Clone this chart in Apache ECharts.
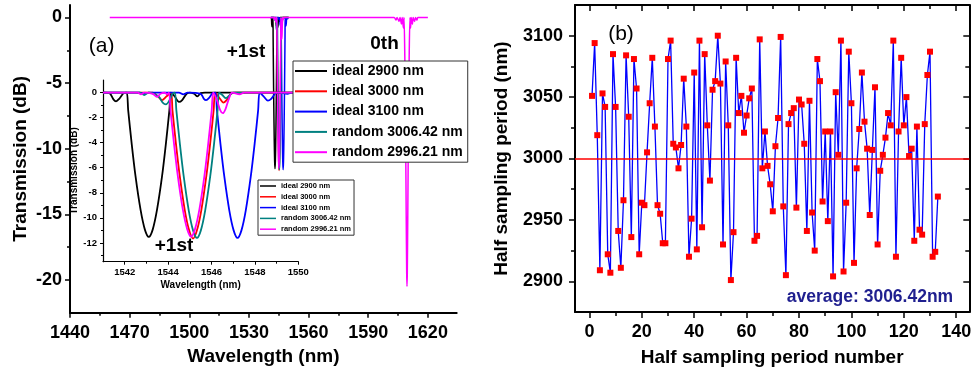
<!DOCTYPE html>
<html>
<head>
<meta charset="utf-8">
<script src="https://cdn.jsdelivr.net/npm/echarts@6/dist/echarts.min.js"></script>
<style>
  html, body { margin: 0; padding: 0; background: #fff; }
  #chart { width: 975px; height: 372px; }
</style>
</head>
<body>
<div id="chart"></div>
<script>
// ---- tick labels ----
const wlTicks = [1440, 1470, 1500, 1530, 1560, 1590, 1620];
const wlMinor = [1455, 1485, 1515, 1545, 1575, 1605];
const dbTicks = [0, -5, -10, -15, -20];
const dbMinor = [-2.5, -7.5, -12.5, -17.5];
const insetWlTicks = [1542, 1544, 1546, 1548, 1550];
const insetWlMinor = [1543, 1545, 1547, 1549];
const insetDbTicks = [0, -2, -4, -6, -8, -10, -12];
const insetDbMinor = [-1, -3, -5, -7, -9, -11, -13];
const numTicks = [0, 20, 40, 60, 80, 100, 120, 140];
const numMinor = [10, 30, 50, 70, 90, 110, 130];
const periodTicks = [2900, 2950, 3000, 3050, 3100];
const periodMinor = [2925, 2975, 3025, 3075];

// ---- series names / colours ----
const names = ['ideal 2900 nm', 'ideal 3000 nm', 'ideal 3100 nm', 'random 3006.42 nm', 'random 2996.21 nm'];
const colors = ['#000000', '#ff0000', '#0000ff', '#008080', '#ff00ff'];

// ---- transmission spectra around +1st order (wavelength nm, dB) ----
const ideal2900 = [
  [1541.00, 0], [1541.30, -0.05], [1541.48, -0.55], [1541.60, -0.70], [1541.75, -0.50], [1541.95, -0.05], [1542.09, 0],
  [1542.16, -1.4], [1542.32, -4.05], [1542.50, -6.7], [1542.73, -9.35], [1542.93, -10.94], [1543.11, -11.52],
  [1543.29, -10.94], [1543.49, -9.35], [1543.72, -6.7], [1543.90, -4.05], [1544.06, -1.4], [1544.13, 0],
  [1544.30, -0.3], [1544.50, -0.75], [1544.65, -0.6], [1544.85, -0.1], [1545.00, 0], [1545.20, -0.1],
  [1545.35, -0.3], [1545.50, -0.05], [1545.70, 0], [1550.00, 0]
];
const ideal3000 = [
  [1541.00, 0], [1543.30, 0], [1543.55, -0.35], [1543.72, -0.6], [1543.90, -0.35], [1544.13, 0],
  [1544.20, -1.4], [1544.36, -4.05], [1544.54, -6.7], [1544.77, -9.4], [1544.97, -11.0], [1545.15, -11.66],
  [1545.33, -11.0], [1545.53, -9.4], [1545.76, -6.7], [1545.94, -4.05], [1546.10, -1.4], [1546.17, 0],
  [1546.35, -0.4], [1546.55, -0.8], [1546.72, -0.55], [1546.90, -0.1], [1547.10, 0], [1550.00, 0]
];
const ideal3100 = [
  [1541.00, 0], [1542.70, 0], [1542.90, -0.1], [1543.10, 0], [1544.50, 0], [1544.70, -0.15], [1544.90, 0],
  [1545.50, -0.1], [1545.65, -0.5], [1545.75, -0.6], [1545.90, -0.4], [1546.05, -0.05], [1546.18, 0],
  [1546.25, -1.4], [1546.41, -4.05], [1546.59, -6.7], [1546.82, -9.4], [1547.02, -11.0], [1547.20, -11.6],
  [1547.38, -11.0], [1547.58, -9.4], [1547.81, -6.7], [1547.99, -4.05], [1548.15, -1.4], [1548.22, 0],
  [1548.40, -0.3], [1548.60, -0.65], [1548.75, -0.5], [1548.95, -0.05], [1549.10, 0], [1549.50, -0.1],
  [1549.70, 0], [1550.00, 0]
];
const random3006 = [
  [1541.00, 0], [1542.70, 0], [1542.90, -0.2], [1543.10, 0], [1543.55, -0.3], [1543.75, -0.8], [1543.90, -0.95],
  [1544.10, -0.5], [1544.20, -0.1], [1544.31, 0],
  [1544.38, -1.4], [1544.54, -4.05], [1544.72, -6.7], [1544.95, -9.4], [1545.15, -11.0], [1545.33, -11.6],
  [1545.51, -11.0], [1545.71, -9.4], [1545.94, -6.7], [1546.12, -4.05], [1546.28, -1.4], [1546.35, 0],
  [1546.50, -0.2], [1546.67, -0.45], [1546.85, -0.2], [1547.00, 0], [1550.00, 0]
];
const random2996 = [
  [1541.00, 0], [1542.60, 0], [1542.75, -0.15], [1542.90, 0], [1543.30, -0.1], [1543.48, -0.35], [1543.65, -0.1],
  [1543.85, 0], [1543.95, -0.15], [1544.04, 0],
  [1544.11, -1.4], [1544.27, -4.05], [1544.45, -6.7], [1544.68, -9.35], [1544.88, -10.9], [1545.06, -11.5],
  [1545.24, -10.9], [1545.44, -9.35], [1545.67, -6.7], [1545.85, -4.05], [1546.01, -1.4], [1546.08, 0],
  [1546.25, -0.6], [1546.40, -1.4], [1546.52, -1.65], [1546.65, -1.3], [1546.80, -0.5], [1546.95, 0],
  [1547.30, -0.15], [1547.50, 0], [1550.00, 0]
];
// 0th order dip of the random 2996.21 nm grating
const zerothOrder = [
  [1603.0, 0], [1604.0, -0.2], [1604.5, 0], [1605.5, -0.3], [1606.0, 0], [1606.7, -0.5], [1607.1, 0],
  [1607.7, -0.8], [1608.0, 0], [1608.4, -3], [1608.8, -9], [1609.1, -15], [1609.35, -19.5], [1609.5, -20.5],
  [1609.65, -19.5], [1609.9, -15], [1610.2, -9], [1610.6, -3], [1611.0, 0], [1611.3, -0.8], [1611.6, 0],
  [1612.2, -0.5], [1612.6, 0], [1613.3, -0.3], [1613.8, 0], [1614.5, -0.2], [1615.0, 0]
];
const spanStart = [1460, 0];
const spanEnd = [1620, 0];

// ---- half sampling periods (nm), numbers 1..133 ----
const periods = [
  3051, 3094, 3019, 2909, 3053, 3042, 2922, 2907, 3085, 3042,
  2941, 2911, 2966, 3084, 3034, 2936, 3081, 3057, 2922, 2964,
  2962, 3005, 3045, 3082, 3026, 2962, 2955, 2931, 2931, 3081,
  3096, 3012, 3009, 2992, 3011, 3065, 3026, 2920, 2951, 3070,
  2926, 3096, 2944, 3085, 3027, 2982, 3056, 3063, 3100, 3061,
  2930, 3079, 3027, 2901, 2940, 3082, 3037, 3051, 3021, 3035,
  3049, 3057, 2933, 2937, 3097, 2992, 3022, 2994, 2979, 2957,
  3010, 3033, 3099, 2961, 2905, 3028, 3037, 3041, 2960, 3048,
  3044, 3012, 2941, 3047, 2956, 2925, 3081, 3063, 2965, 3022,
  2949, 3022, 2904, 3054, 3003, 3096, 2908, 2964, 3087, 3045,
  2915, 2992, 3024, 3070, 3030, 3008, 2954, 3007, 3058, 2930,
  2990, 3003, 3017, 3037, 3027, 3096, 2920, 3022, 3082, 3027,
  3050, 3002, 3008, 2933, 3026, 2942, 2938, 3028, 3068, 3087,
  2920, 2924, 2969
];
const designPeriod = 3000;

const FONT = "'Liberation Sans', Arial, Helvetica, sans-serif";

function axis(gridIndex, position, min, max, o) {
  return {
    type: 'value', gridIndex, position, min, max,
    splitLine: { show: false },
    axisLine: { show: !!o.line, onZero: false, lineStyle: { color: '#000', width: o.lineWidth || 2 } },
    axisTick: {
      show: !!o.ticks, customValues: o.ticks || [], inside: !!o.inside, length: o.tickLen || 5,
      lineStyle: { color: '#000', width: o.tickWidth || 1.5 }
    },
    axisLabel: {
      show: !!o.labels, customValues: o.labels || [], margin: o.margin || 8,
      formatter: (v) => String(v),
      fontSize: o.fontSize || 18, fontWeight: 'bold', color: '#000', fontFamily: FONT
    },
    name: o.name || '', nameLocation: 'middle', nameGap: o.nameGap || 0,
    nameTextStyle: { fontSize: o.nameSize || 19, fontWeight: 'bold', color: '#000', fontFamily: FONT }
  };
}

const mainSpectra = [ideal2900, ideal3000, ideal3100, random3006,
  [spanStart].concat(random2996, zerothOrder, [spanEnd])];
const insetSpectra = [ideal2900, ideal3000, ideal3100, random3006, random2996];

const series = [];
mainSpectra.forEach((d, i) => series.push({
  type: 'line', name: names[i], xAxisIndex: 0, yAxisIndex: 0, data: d,
  symbol: 'none', smooth: 0.3, lineStyle: { color: colors[i], width: 1.5 }, itemStyle: { color: colors[i] }
}));
insetSpectra.forEach((d, i) => series.push({
  type: 'line', name: names[i], xAxisIndex: 2, yAxisIndex: 2, data: d,
  symbol: 'none', smooth: 0.3, lineStyle: { color: colors[i], width: 1.8 }, itemStyle: { color: colors[i] }
}));
series.push({
  type: 'line', name: 'half sampling period', xAxisIndex: 4, yAxisIndex: 4,
  data: periods.map((v, i) => [i + 1, v]),
  symbol: 'rect', symbolSize: 6, showSymbol: true,
  lineStyle: { color: '#0000ff', width: 1.3 }, itemStyle: { color: '#ff0000' },
  markLine: {
    silent: true, symbol: ['none', 'none'], label: { show: false },
    lineStyle: { color: '#ff0000', width: 1.5, type: 'solid' },
    data: [{ yAxis: designPeriod }]
  }
});

const option = {
  animation: false,
  grid: [
    { left: 70, top: 5, width: 386.7, height: 307.7 },
    { left: 103, top: 80, width: 195.3, height: 181.7 },
    { left: 575, top: 5, width: 394.3, height: 307.3 }
  ],
  xAxis: [
    axis(0, 'bottom', 1440, 1634.5, { line: true, ticks: wlTicks, labels: wlTicks, tickLen: 5, margin: 11, name: 'Wavelength (nm)', nameGap: 35 }),
    axis(0, 'bottom', 1440, 1634.5, { ticks: wlMinor, tickLen: 3 }),
    axis(1, 'bottom', 1541, 1550, { line: true, lineWidth: 1.2, ticks: insetWlTicks, labels: insetWlTicks, tickLen: 3, tickWidth: 1, margin: 6, fontSize: 9.5, name: 'Wavelength (nm)', nameGap: 19, nameSize: 10 }),
    axis(1, 'bottom', 1541, 1550, { ticks: insetWlMinor, tickLen: 2, tickWidth: 1 }),
    axis(2, 'bottom', -5.5, 145, { line: true, ticks: numTicks, labels: numTicks, tickLen: 6, margin: 11, name: 'Half sampling period number', nameGap: 36 }),
    axis(2, 'bottom', -5.5, 145, { ticks: numMinor, tickLen: 4 }),
    axis(2, 'top', -5.5, 145, { line: true, ticks: numTicks, inside: true, tickLen: 6 }),
    axis(2, 'top', -5.5, 145, { ticks: numMinor, inside: true, tickLen: 4 })
  ],
  yAxis: [
    axis(0, 'left', -22.5, 0.95, { line: true, ticks: dbTicks, labels: dbTicks, tickLen: 5, margin: 8, name: 'Transmission (dB)', nameGap: 40 }),
    axis(0, 'left', -22.5, 0.95, { ticks: dbMinor, tickLen: 3 }),
    axis(1, 'left', -13.5, 1, { line: true, lineWidth: 1.2, ticks: insetDbTicks, labels: insetDbTicks, tickLen: 3, tickWidth: 1, margin: 6, fontSize: 9.5, name: 'Transmission (dB)', nameGap: 21, nameSize: 10 }),
    axis(1, 'left', -13.5, 1, { ticks: insetDbMinor, tickLen: 2, tickWidth: 1 }),
    axis(2, 'left', 2875, 3125, { line: true, ticks: periodTicks, labels: periodTicks, tickLen: 6, margin: 12, name: 'Half sampling period (nm)', nameGap: 64 }),
    axis(2, 'left', 2875, 3125, { ticks: periodMinor, tickLen: 4 }),
    axis(2, 'right', 2875, 3125, { line: true, ticks: periodTicks, inside: true, tickLen: 6 }),
    axis(2, 'right', 2875, 3125, { ticks: periodMinor, inside: true, tickLen: 4 })
  ],
  legend: [
    {
      data: names, orient: 'vertical', left: 293, top: 61, icon: 'rect', itemWidth: 32, itemHeight: 2,
      itemGap: 6.3, padding: [3, 5, 3, 2], borderColor: '#333', borderWidth: 1, backgroundColor: '#fff',
      selectedMode: false,
      textStyle: { fontSize: 14, fontWeight: 'bold', color: '#000', fontFamily: FONT, lineHeight: 14 }
    },
    {
      data: names, orient: 'vertical', left: 258, top: 180, icon: 'rect', itemWidth: 16, itemHeight: 1.5,
      itemGap: 1.8, padding: [1.5, 3, 1.5, 2], borderColor: '#333', borderWidth: 1, backgroundColor: '#fff',
      selectedMode: false,
      textStyle: { fontSize: 7.5, fontWeight: 'bold', color: '#000', fontFamily: FONT, lineHeight: 9 }
    }
  ],
  graphic: [
    { type: 'text', x: 101.7, y: 46, style: { text: '(a)', font: '21px ' + FONT, fill: '#000', align: 'center', verticalAlign: 'middle' } },
    { type: 'text', x: 246, y: 52, style: { text: '+1st', font: 'bold 19px ' + FONT, fill: '#000', align: 'center', verticalAlign: 'middle' } },
    { type: 'text', x: 384.5, y: 44, style: { text: '0th', font: 'bold 19px ' + FONT, fill: '#000', align: 'center', verticalAlign: 'middle' } },
    { type: 'text', x: 174, y: 246, style: { text: '+1st', font: 'bold 19px ' + FONT, fill: '#000', align: 'center', verticalAlign: 'middle' } },
    { type: 'text', x: 621, y: 34.5, style: { text: '(b)', font: '21px ' + FONT, fill: '#000', align: 'center', verticalAlign: 'middle' } },
    { type: 'text', x: 870, y: 297, style: { text: 'average: 3006.42nm', font: 'bold 17.5px ' + FONT, fill: '#1f1f8f', align: 'center', verticalAlign: 'middle' } }
  ],
  series: series
};

const chart = echarts.init(document.getElementById('chart'));
chart.setOption(option);
</script>
</body>
</html>
